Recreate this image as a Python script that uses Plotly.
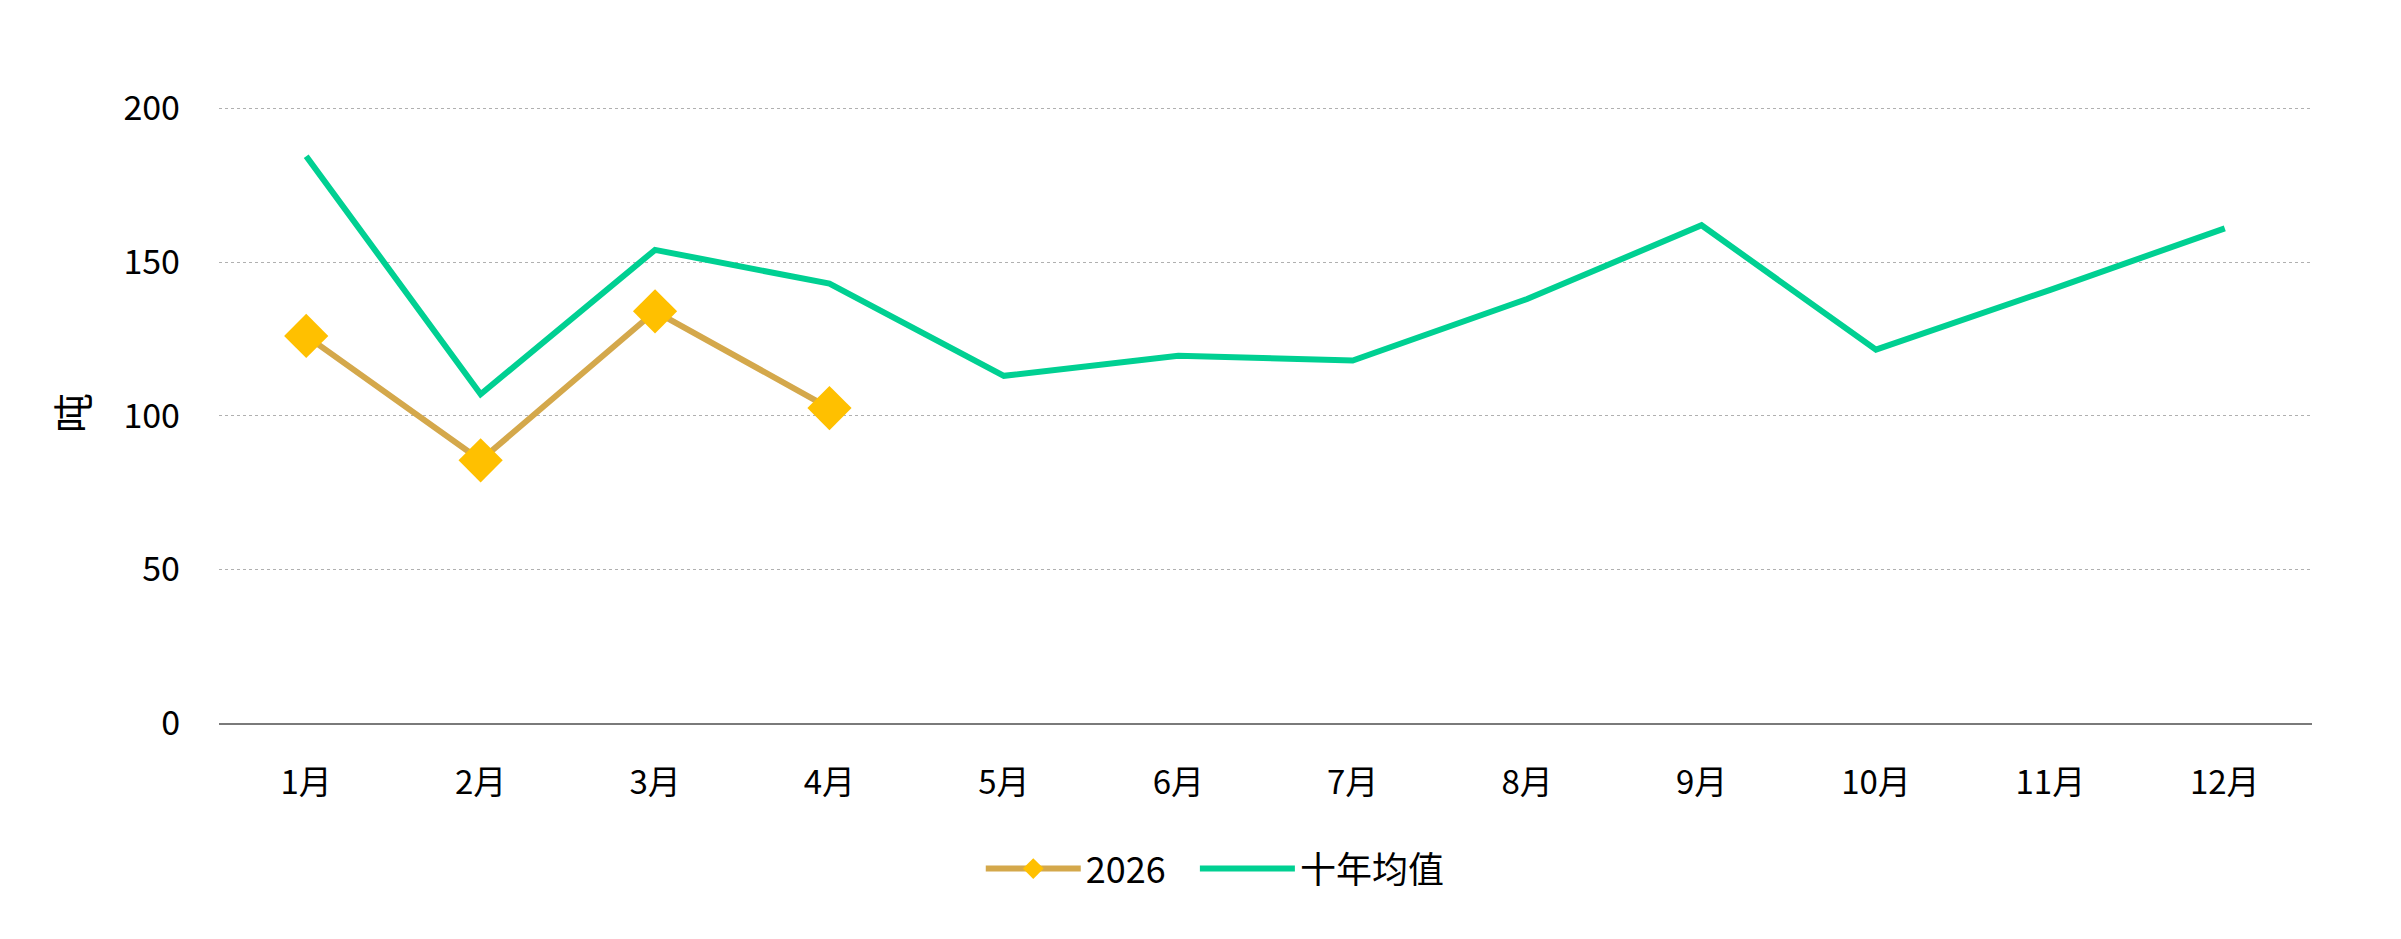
import plotly.graph_objects as go

months = ["1月", "2月", "3月", "4月", "5月", "6月", "7月", "8月", "9月", "10月", "11月", "12月"]
series_2026 = [126, 85.5, 134, 102.5]
series_avg = [184.5, 107, 154, 143, 113, 119.5, 118, 138, 162, 121.5, 141, 161]
y_ticks = [0, 50, 100, 150, 200]

FONT = "Noto Sans CJK SC"

fig = go.Figure()
fig.add_trace(go.Scatter(
    x=months[:len(series_2026)], y=series_2026, name="2026\u00a0\u00a0\u00a0",
    mode="lines+markers",
    line=dict(color="#D4A84B", width=6),
    marker=dict(symbol="diamond", size=34, color="#FFC000"),
))
fig.add_trace(go.Scatter(
    x=months, y=series_avg, name="十年均值",
    mode="lines",
    line=dict(color="#00D092", width=6),
))

fig.update_layout(
    width=2401, height=939,
    paper_bgcolor="white", plot_bgcolor="white",
    margin=dict(l=211, r=97, t=95, b=224),
    font=dict(family=FONT, size=33, color="#000000"),
    showlegend=True,
    legend=dict(orientation="h", x=0.476, xanchor="center",
                y=-0.235, yanchor="middle", itemwidth=95,
                font=dict(size=36, family=FONT), traceorder="normal"),
    xaxis=dict(type="category", categoryorder="array", categoryarray=months,
               range=[-0.5, 11.5], showgrid=False, showline=True, linecolor="#7a7a7a",
               linewidth=1.5, ticks="", tickfont=dict(size=33), ticklabelstandoff=30),
    yaxis=dict(range=[0, 201.8], tickvals=y_ticks, showgrid=True, gridcolor="#b0b0b0",
               griddash="dot", gridwidth=1.2, zeroline=False, showline=False, ticks="",
               tickfont=dict(size=34), ticklabelstandoff=38,
               title=dict(text="吨", font=dict(size=40), standoff=22)),
)

fig.write_html("out.html")
